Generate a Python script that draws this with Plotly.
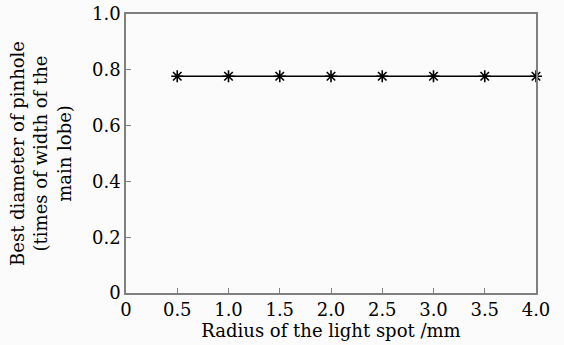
import plotly.graph_objects as go

radius = [0.5, 1.0, 1.5, 2.0, 2.5, 3.0, 3.5, 4.0]
best_diam = [0.777, 0.777, 0.777, 0.777, 0.777, 0.777, 0.777, 0.777]
x_ticks = [0, 0.5, 1.0, 1.5, 2.0, 2.5, 3.0, 3.5, 4.0]
x_tick_text = ["0", "0.5", "1.0", "1.5", "2.0", "2.5", "3.0", "3.5", "4.0"]
y_ticks = [0, 0.2, 0.4, 0.6, 0.8, 1.0]
y_tick_text = ["0", "0.2", "0.4", "0.6", "0.8", "1.0"]

font = "DejaVu Serif"
fig = go.Figure()
fig.add_trace(go.Scatter(
    x=radius, y=best_diam, mode="lines+markers",
    line=dict(color="black", width=1.5),
    marker=dict(symbol="asterisk-open", size=10, color="black", line=dict(color="black", width=1.6)),
    cliponaxis=False, showlegend=False))

axis_common = dict(showgrid=False, zeroline=False, showline=True, linecolor="#808080", linewidth=1.5,
                   mirror=True, ticks="inside", ticklen=5, tickcolor="#808080", tickwidth=1,
                   automargin=False,
                   tickfont=dict(family=font, size=18, color="black"))
fig.update_xaxes(range=[0, 4.0], tickvals=x_ticks, ticktext=x_tick_text,
                 title=dict(text="Radius of the light spot /mm", font=dict(family=font, size=18, color="black"), standoff=0),
                 **axis_common)
fig.update_yaxes(range=[0, 1.0], tickvals=y_ticks, ticktext=y_tick_text,
                 title=dict(text="Best diameter of pinhole<br>(times of width of the<br>main lobe)",
                            font=dict(family=font, size=18, color="black"), standoff=16),
                 **axis_common)
fig.update_layout(width=564, height=345, margin=dict(l=126, r=28, t=14, b=52),
                  paper_bgcolor="#fbfbfb", plot_bgcolor="#fbfbfb",
                  font=dict(family=font, color="black"))
fig.write_html("out.html", config={"displayModeBar": False},
               post_script="document.body.style.margin='0';")
